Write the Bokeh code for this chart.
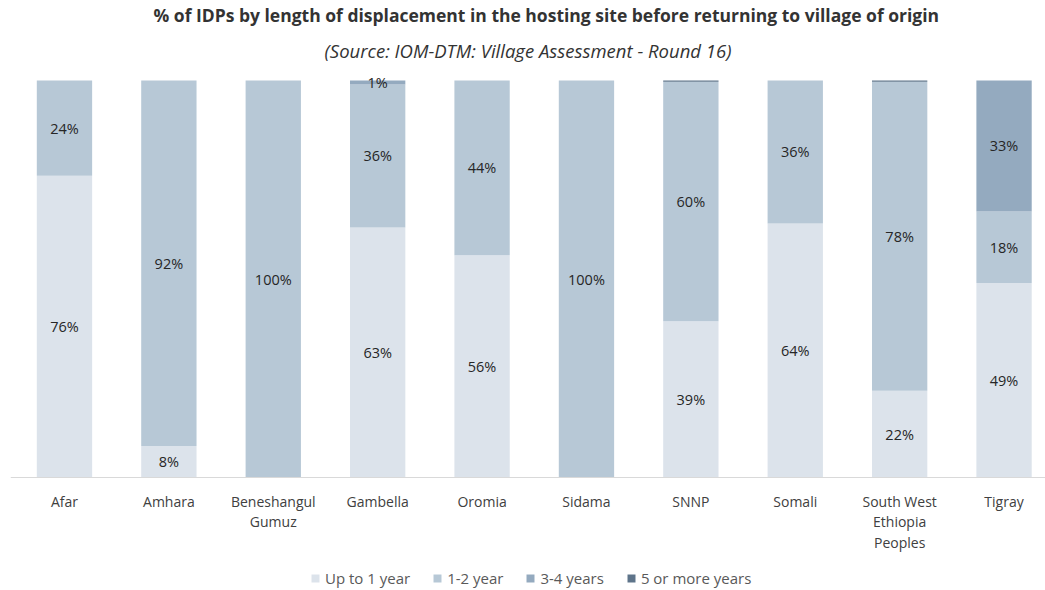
import numpy as np
from bokeh.plotting import figure
from bokeh.models import (ColumnDataSource, Range1d, LinearAxis, FixedTicker, Title,
                          Legend, LegendItem)
from bokeh.core.properties import value
from bokeh.embed import file_html
from bokeh.resources import INLINE

# ---- data ----
categories = ["Afar", "Amhara", "Beneshangul\nGumuz", "Gambella", "Oromia", "Sidama",
              "SNNP", "Somali", "South West\nEthiopia\nPeoples", "Tigray"]
series_names = ["Up to 1 year", "1-2 year", "3-4 years", "5 or more years"]
up_to_1_year = [76, 8, 0, 63, 56, 0, 39.4, 64, 21.9, 49]
one_two_year = [24, 92, 100, 36, 44, 100, 60.3, 36, 77.8, 18]
three_four_years = [0, 0, 0, 1, 0, 0, 0, 0, 0, 33]
five_plus_years = [0, 0, 0, 0, 0, 0, 0.3, 0, 0.3, 0]

colors = ["#DCE3EB", "#B7C8D6", "#94AABF", "#5E748A"]
FONT = "Open Sans"

xs = list(range(len(categories)))
keys = ["s0", "s1", "s2", "s3"]
src = ColumnDataSource(dict(x=xs, s0=up_to_1_year, s1=one_two_year,
                            s2=three_four_years, s3=five_plus_years))

p = figure(width=1045, height=590, output_backend="svg", toolbar_location=None,
           x_range=Range1d(-0.517, 9.397), y_range=Range1d(-28.4, 102),
           x_axis_location=None, y_axis_location=None,
           min_border_left=10, min_border_right=0, min_border_top=71, min_border_bottom=0)
p.outline_line_color = None
p.xgrid.visible = False
p.ygrid.visible = False
p.background_fill_color = "white"
p.border_fill_color = "white"

renderers = p.vbar_stack(keys, x="x", width=0.53, source=src, color=colors, line_color=None)

# data labels
vals = np.array([up_to_1_year, one_two_year, three_four_years, five_plus_years], dtype=float)
tops = np.cumsum(vals, axis=0)
mids = tops - vals / 2
lx, ly, lt = [], [], []
for s in range(vals.shape[0]):
    for i in range(vals.shape[1]):
        if vals[s, i] >= 0.5:
            lx.append(xs[i])
            ly.append(mids[s, i])
            lt.append(f"{round(vals[s, i])}%")
p.text(x=lx, y=ly, text=lt, text_align="center", text_baseline="middle",
       text_font=value(FONT), text_font_size="14.5px", text_color="#262626")

# x axis at zero
ax = LinearAxis(fixed_location=0, ticker=FixedTicker(ticks=xs),
                major_label_overrides={i: c for i, c in zip(xs, categories)})
ax.axis_line_color = "#D9D9D9"
ax.axis_line_width = 1
ax.major_tick_line_color = None
ax.minor_tick_line_color = None
ax.major_label_standoff = 8
ax.major_label_text_font = FONT
ax.major_label_text_font_size = "14px"
ax.major_label_text_color = "#404040"
ax.major_label_text_line_height = 1.08
p.add_layout(ax, "below")

# legend
items = [LegendItem(label=n, renderers=[r]) for n, r in zip(series_names, renderers)]
leg = Legend(items=items, orientation="horizontal", location=(300, 2),
             glyph_width=10, glyph_height=10, label_standoff=5, spacing=22,
             padding=0, margin=0, border_line_color=None, background_fill_alpha=0,
             label_text_font=FONT, label_text_font_size="15px", label_text_color="#595959")
p.add_layout(leg, "center")

# titles
sub = Title(text="(Source: IOM-DTM: Village Assessment - Round 16)", align="center",
            text_font=FONT, text_font_size="18.5px", text_font_style="italic",
            text_color="#333333", standoff=19)
main = Title(text="% of IDPs by length of displacement in the hosting site before returning to village of origin",
             align="left", text_font=FONT, text_font_size="17.5px", text_font_style="bold",
             text_color="#333333", standoff=0, offset=143)
p.add_layout(sub, "above")
p.add_layout(main, "above")

open("out.html", "w").write(file_html(p, INLINE))
